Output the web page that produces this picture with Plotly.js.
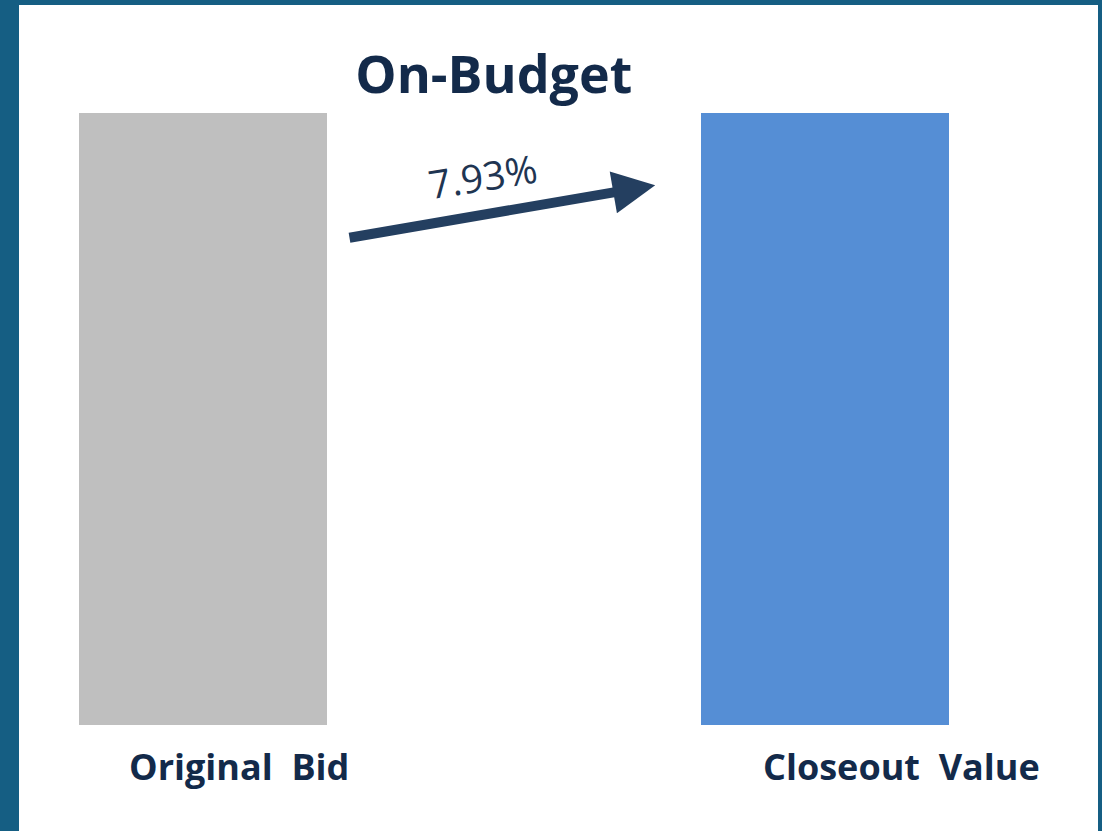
<!DOCTYPE html>
<html><head><meta charset="utf-8">
<script src="https://cdn.plot.ly/plotly-3.0.1.min.js"></script>
<style>html,body{margin:0;padding:0;background:#155e83;}</style>
</head><body>
<div id="chart" style="width:1102px;height:831px;"></div>
<script>
const categories = ["Original Bid", "Closeout Value"];
const values = [100, 100];
const barColors = ["#bfbfbf", "#558ed5"];
const changeLabel = "7.93%";
const titleText = "On-Budget";

const navy = "#132a4a";
const trace = {
  type: "bar", x: categories, y: values,
  marker: {color: barColors}, width: 0.4,
  hoverinfo: "skip", showlegend: false
};
function lbl(s) { return "<b>" + s.replace(" ", "&nbsp; ") + "</b>"; }
const annotations = [
  {x: categories[0], y: -6.8, xref: "x", yref: "y", xshift: 36, text: lbl(categories[0]), showarrow: false,
   font: {family: "Open Sans", size: 36, color: navy}},
  {x: categories[1], y: -6.8, xref: "x", yref: "y", xshift: 77, text: lbl(categories[1]), showarrow: false,
   font: {family: "Open Sans", size: 36, color: navy}},
  {x: 0.727, y: 88.2, xref: "x", yref: "y", ax: 0.233, ay: 79.56, axref: "x", ayref: "y",
   showarrow: true, arrowhead: 2, arrowsize: 0.85, arrowwidth: 10, arrowcolor: "#243f60", text: ""},
  {x: 0.449, y: 89.8, xref: "x", yref: "y", text: changeLabel, showarrow: false, textangle: -9,
   font: {family: "Open Sans", size: 39, color: "#1f3552"}}
];
const layout = {
  width: 1102, height: 831,
  paper_bgcolor: "#155e83", plot_bgcolor: "#ffffff",
  margin: {l: 19, r: 4, t: 5, b: 0},
  title: {text: "<b>" + titleText + "</b>", x: 0.44, xref: "paper", y: 0.91, yref: "container", yanchor: "middle",
          font: {family: "Open Sans", size: 52, color: navy}},
  xaxis: {range: [-0.296, 1.439], showticklabels: false, showgrid: false, zeroline: false, showline: false, ticks: "", fixedrange: true},
  yaxis: {range: [-17.38, 117.66], showticklabels: false, showgrid: false, zeroline: false, showline: false, ticks: "", fixedrange: true},
  annotations: annotations, bargap: 0
};
Plotly.newPlot("chart", [trace], layout, {displayModeBar: false, staticPlot: true});
</script>
</body></html>
